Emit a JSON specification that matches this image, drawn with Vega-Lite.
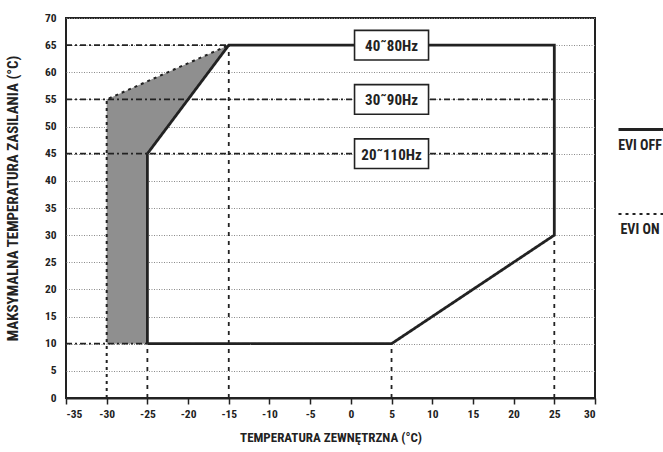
{
  "$schema": "https://vega.github.io/schema/vega-lite/v6.json",
  "width": 529,
  "height": 380,
  "autosize": {"type": "none"},
  "padding": {"left": 66, "top": 18, "right": 68, "bottom": 54},
  "background": "white",
  "config": {
    "font": "Roboto Condensed, Roboto, sans-serif",
    "view": {"stroke": "#222", "strokeWidth": 2},
    "axis": {
      "labelFont": "Roboto Condensed, Roboto, sans-serif",
      "titleFont": "Roboto Condensed, Roboto, sans-serif",
      "labelFontWeight": "bold",
      "titleFontWeight": "bold",
      "labelColor": "#222",
      "titleColor": "#222",
      "labelFontSize": 11.5,
      "titleFontSize": 13,
      "labelOverlap": false
    },
    "legend": {
      "labelFont": "Roboto Condensed, Roboto, sans-serif",
      "labelFontWeight": "bold",
      "labelFontSize": 14,
      "labelColor": "#222"
    }
  },
  "datasets": {
    "outline": [
      {"series": "EVI OFF", "i": 1, "t": -25, "v": 10},
      {"series": "EVI OFF", "i": 2, "t": -25, "v": 45},
      {"series": "EVI OFF", "i": 3, "t": -15, "v": 65},
      {"series": "EVI OFF", "i": 4, "t": 25, "v": 65},
      {"series": "EVI OFF", "i": 5, "t": 25, "v": 30},
      {"series": "EVI OFF", "i": 6, "t": 5, "v": 10},
      {"series": "EVI OFF", "i": 7, "t": -25, "v": 10},
      {"series": "EVI ON", "i": 1, "t": -30, "v": 0},
      {"series": "EVI ON", "i": 2, "t": -30, "v": 55},
      {"series": "EVI ON", "i": 3, "t": -15, "v": 65}
    ],
    "shade": [
      {"t": -30, "v": 10, "v2": 55},
      {"t": -25, "v": 10, "v2": 58.33},
      {"t": -25, "v": 45, "v2": 58.33},
      {"t": -15, "v": 65, "v2": 65}
    ],
    "refs": [
      {"kind": "dashdot", "t": -35, "t2": -15, "v": 65, "v2": 65},
      {"kind": "dashdot", "t": -35, "t2": 25, "v": 55, "v2": 55},
      {"kind": "dashdot", "t": -35, "t2": 25, "v": 45, "v2": 45},
      {"kind": "dashdot", "t": -35, "t2": -25, "v": 10, "v2": 10},
      {"kind": "dash", "t": -25, "t2": -25, "v": 0, "v2": 10},
      {"kind": "dash", "t": -15, "t2": -15, "v": 0, "v2": 65},
      {"kind": "dash", "t": 5, "t2": 5, "v": 0, "v2": 10},
      {"kind": "dash", "t": 25, "t2": 25, "v": 0, "v2": 30}
    ],
    "boxes": [
      {"t": 5, "v": 65, "label": "40˜80Hz"},
      {"t": 5, "v": 55, "label": "30˜90Hz"},
      {"t": 5, "v": 45, "label": "20˜110Hz"}
    ]
  },
  "encoding": {
    "x": {"field": "t", "type": "quantitative", "scale": {"domain": [-35, 30], "nice": false},
      "axis": {"values": [-35,-30,-25,-20,-15,-10,-5,0,5,10,15,20,25,30], "tickCount": 30, "labelExpr": "'' + datum.value", "grid": false, "domainColor": "#222", "domainWidth": 2, "tickColor": "#222", "tickWidth": 1.5, "tickSize": 6, "labelPadding": 4, "title": "TEMPERATURA ZEWNĘTRZNA (°C)", "titlePadding": 12}},
    "y": {"field": "v", "type": "quantitative", "stack": null, "scale": {"domain": [0, 70], "nice": false},
      "axis": {"values": [0,5,10,15,20,25,30,35,40,45,50,55,60,65,70], "tickCount": 30, "labelOverlap": false, "grid": true, "gridColor": "#8a8a8a", "gridDash": [1, 1.5], "gridWidth": 1, "ticks": false, "domain": false, "labelPadding": 10, "title": "MAKSYMALNA TEMPERATURA ZASILANIA  (°C)", "titleFontSize": 15, "titlePadding": 24, "titleY": 180}}
  },
  "layer": [
    {
      "data": {"name": "shade"},
      "mark": {"type": "area", "fill": "#8f8f8f", "fillOpacity": 1, "opacity": 1, "orient": "vertical"},
      "encoding": {
        "y2": {"field": "v2"}
      }
    },
    {
      "data": {"name": "refs"},
      "transform": [{"filter": "datum.kind === 'dashdot'"}],
      "mark": {"type": "rule", "color": "#222", "strokeWidth": 1.8, "strokeDash": [6, 3, 2, 3]},
      "encoding": {
        "x2": {"field": "t2"},
        "y2": {"field": "v2"}
      }
    },
    {
      "data": {"name": "refs"},
      "transform": [{"filter": "datum.kind === 'dash'"}],
      "mark": {"type": "rule", "color": "#222", "strokeWidth": 1.8, "strokeDash": [4, 5]},
      "encoding": {
        "x2": {"field": "t2"},
        "y2": {"field": "v2"}
      }
    },
    {
      "data": {"name": "outline"},
      "mark": {"type": "line", "color": "#222", "strokeJoin": "miter"},
      "encoding": {
        "order": {"field": "i", "type": "quantitative"},
        "detail": {"field": "series", "type": "nominal"},
        "strokeDash": {"field": "series", "type": "nominal",
          "scale": {"domain": ["EVI OFF", "EVI ON"], "range": [[1, 0], [3, 4]]},
          "legend": {"orient": "none", "legendX": 551, "legendY": 87, "title": null, "symbolType": "stroke", "symbolSize": 2116, "symbolStrokeColor": "#222", "symbolStrokeWidth": 2.5, "rowPadding": 37, "labelAlign": "center", "labelOffset": -26,
            "encode": {"labels": {"update": {"dy": {"value": 16}}}}}
        },
        "strokeWidth": {"field": "series", "type": "nominal",
          "scale": {"domain": ["EVI OFF", "EVI ON"], "range": [2.8, 2]}, "legend": null}
      }
    },
    {
      "data": {"name": "boxes"},
      "mark": {"type": "point", "shape": "M-1,-0.4L1,-0.4L1,0.4L-1,0.4Z", "size": 5476, "filled": true, "fill": "white", "stroke": "#222", "strokeWidth": 1.6, "opacity": 1}
    },
    {
      "data": {"name": "boxes"},
      "mark": {"type": "text", "font": "Roboto Condensed, Roboto, sans-serif", "fontWeight": "bold", "fontSize": 15, "color": "#222", "align": "center", "baseline": "middle", "dy": 1},
      "encoding": {
        "text": {"field": "label"}
      }
    }
  ]
}
